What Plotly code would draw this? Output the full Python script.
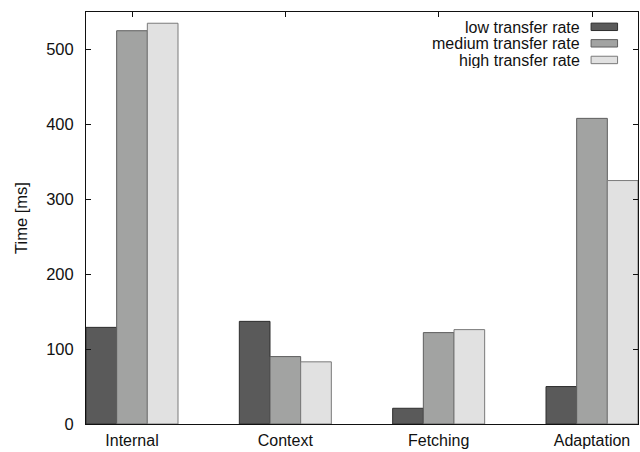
import plotly.graph_objects as go

categories = ["Internal", "Context", "Fetching", "Adaptation"]
series_names = ["low transfer rate", "medium transfer rate", "high transfer rate"]
low_rate = [129, 137, 21, 50]
medium_rate = [525, 90, 122, 408]
high_rate = [535, 83, 126, 325]
y_ticks = [0, 100, 200, 300, 400, 500]

series_values = [low_rate, medium_rate, high_rate]
fill_colors = ["#5a5a5a", "#a2a3a2", "#e1e1e1"]
line_colors = ["#2e2e2e", "#5e5e5e", "#7a7a7a"]

FONT = "Liberation Sans, Arial, sans-serif"
FS = 16.5

fig = go.Figure()
for name, vals, fc, lc in zip(series_names, series_values, fill_colors, line_colors):
    fig.add_trace(go.Bar(
        x=categories, y=vals, name=name,
        marker=dict(color=fc, line=dict(color=lc, width=1)),
        showlegend=False,
    ))

# custom legend (text on the left, swatch on the right)
legend_rows_y = [0.964, 0.924, 0.8836]
for name, fc, lc, yy in zip(series_names, fill_colors, line_colors, legend_rows_y):
    fig.add_annotation(
        x=0.898, y=yy, xref="paper", yref="paper",
        text=name, showarrow=False, xanchor="right", yanchor="middle",
        height=16, valign="middle",
        font=dict(family=FONT, size=16, color="#111"),
    )
    fig.add_shape(
        type="rect", xref="paper", yref="paper",
        x0=0.915, x1=0.963, y0=yy - 0.009, y1=yy + 0.009,
        fillcolor=fc, line=dict(color=lc, width=1),
    )

fig.update_layout(
    width=640, height=452,
    margin=dict(l=85.5, r=2, t=12, b=28),
    paper_bgcolor="white", plot_bgcolor="white",
    barmode="group", bargap=0.4, bargroupgap=0,
    font=dict(family=FONT, size=FS, color="#111"),
    xaxis=dict(
        type="category", categoryorder="array", categoryarray=categories,
        range=[-0.3, 3.3], automargin=False,
        showline=True, linecolor="#111", linewidth=1, mirror=True,
        ticks="", showgrid=False, ticklabelstandoff=2,
        tickfont=dict(family=FONT, size=16, color="#111"),
    ),
    xaxis2=dict(
        type="category", categoryorder="array", categoryarray=categories,
        range=[-0.3, 3.3], overlaying="x", side="top", anchor="y",
        automargin=False,
        ticks="inside", ticklen=5, tickcolor="#111", tickwidth=1,
        tickvals=categories,
        showticklabels=False, showgrid=False, showline=False, zeroline=False,
    ),
    yaxis=dict(
        range=[0, 550], tickvals=y_ticks, automargin=False,
        showline=True, linecolor="#111", linewidth=1, mirror="ticks",
        ticks="inside", ticklen=5, tickcolor="#111", tickwidth=1,
        showgrid=False, zeroline=False, ticklabelstandoff=8,
        tickfont=dict(family=FONT, size=FS, color="#111"),
        title=dict(text="Time [ms]", standoff=14,
                   font=dict(family=FONT, size=FS, color="#111")),
    ),
)

# invisible trace to keep the top tick axis rendered
fig.add_trace(go.Scatter(x=categories, y=[0, 0, 0, 0], xaxis="x2", yaxis="y",
                         mode="markers", marker=dict(opacity=0), showlegend=False,
                         hoverinfo="skip"))

fig.write_html("out.html", config={"displayModeBar": False},
               post_script="document.body.style.margin='0';")
